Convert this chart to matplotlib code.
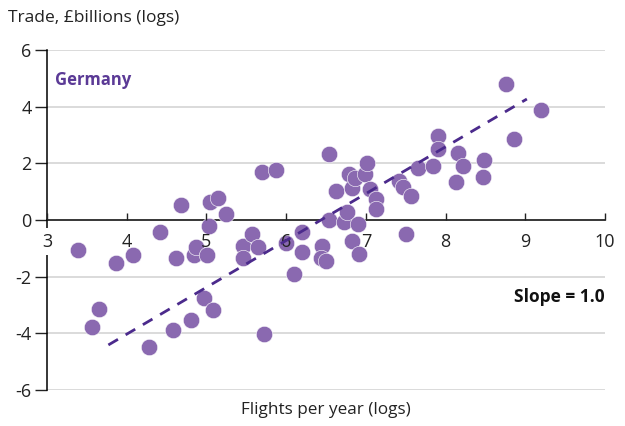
import numpy as np
import matplotlib
matplotlib.use("Agg")
import matplotlib.pyplot as plt

plt.rcParams['font.family'] = ['Open Sans', 'DejaVu Sans']

# log flights per year vs log trade, one point per country pair
flights = [3.39, 3.87, 4.08, 4.42, 4.68, 4.62, 4.84, 4.87, 5.01, 5.03,
           5.04, 5.15, 5.25, 5.46, 5.46, 5.57, 5.65, 5.70, 5.87, 6.00,
           6.20, 6.20, 6.10, 6.45, 6.44, 6.50, 6.54, 6.54, 6.63, 6.73,
           6.76, 6.79, 6.83, 6.86, 6.83, 6.90, 6.91, 6.99, 7.01, 7.05,
           7.13, 7.13, 7.42, 7.47, 7.50, 7.57, 7.65, 7.84, 7.91, 7.91,
           8.13, 8.16, 8.22, 8.48, 8.47, 8.76, 8.86, 9.20, 3.56, 3.65,
           4.28, 4.58, 4.81, 4.97, 5.08, 5.72]
trade = [-1.06, -1.52, -1.24, -0.42, 0.53, -1.34, -1.24, -0.95, -1.24, -0.21,
         0.64, 0.78, 0.21, -0.92, -1.34, -0.49, -0.95, 1.69, 1.76, -0.81,
         -0.42, -1.13, -1.91, -0.92, -1.34, -1.45, 2.33, 0.00, 1.02, -0.07,
         0.28, 1.62, 1.13, 1.48, -0.74, -0.14, -1.20, 1.62, 2.01, 1.09,
         0.74, 0.39, 1.38, 1.16, -0.49, 0.85, 1.84, 1.91, 2.96, 2.51,
         1.34, 2.36, 1.91, 2.12, 1.52, 4.80, 2.86, 3.88, -3.78, -3.14,
         -4.48, -3.88, -3.53, -2.75, -3.18, -4.02]

# fitted line end points
fit_x = [3.77, 9.02]
fit_y = [-4.41, 4.27]

xticks = [3, 4, 5, 6, 7, 8, 9, 10]
yticks = [-6, -4, -2, 0, 2, 4, 6]

fig = plt.figure(figsize=(6.25, 4.26), dpi=100)
ax = fig.add_axes([0.0752, 0.0845, 0.8928, 0.7981])

ax.scatter(flights, trade, s=140, color='#8a69b0', edgecolor='white',
           linewidth=0.4, zorder=3)
ax.plot(fit_x, fit_y, color='#4b2a8c', lw=2, dashes=(4, 3.2), zorder=4)

ax.set_xlim(3, 10)
ax.set_ylim(-6, 6)
ax.set_xticks(xticks)
ax.set_yticks(yticks)
ax.set_yticklabels([str(t) for t in yticks])

for y in yticks:
    if y != 0:
        ax.axhline(y, color='#d4d4d4', lw=1.2, zorder=0)

for s in ['top', 'right']:
    ax.spines[s].set_visible(False)
ax.spines['bottom'].set_position(('data', 0))
ax.spines['bottom'].set_linewidth(1.1)
ax.spines['left'].set_linewidth(1.1)

ax.tick_params(axis='x', direction='in', length=5, width=1, pad=9,
               labelsize=13, colors='#222222')
ax.tick_params(axis='y', direction='out', length=9, width=1, pad=2,
               labelsize=13, colors='#222222')
ax.xaxis.set_zorder(3)
fig.canvas.draw()
ax.get_xticklabels()[0].set_bbox(dict(facecolor='white', edgecolor='none', pad=3))

ax.text(3.1, 4.94, 'Germany', color='#5b3a96', fontsize=12, fontweight='bold',
        va='center', ha='left')
ax.text(10, -2.72, 'Slope = 1.0', color='#111111', fontsize=12.5,
        fontweight='bold', va='center', ha='right')

fig.text(0.013, 0.957, 'Trade, £billions (logs)', fontsize=12.5,
         color='#222222', va='center')
fig.text(0.522, 0.037, 'Flights per year (logs)', fontsize=12.3,
         color='#222222', va='center', ha='center')

fig.savefig('out.png', dpi=100)
